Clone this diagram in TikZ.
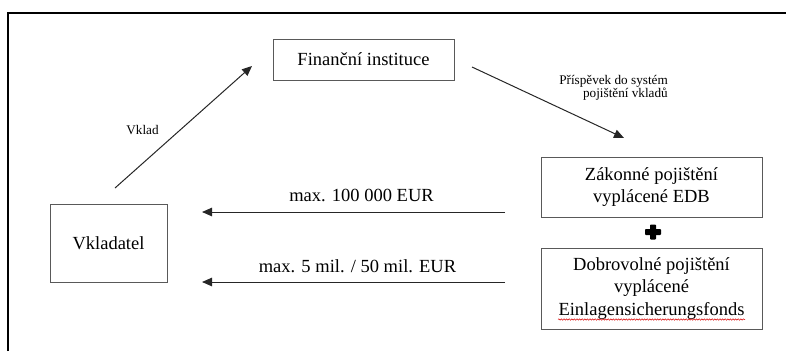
\documentclass[tikz,border=0pt]{standalone}
\usepackage{fontspec}
\setmainfont{Liberation Serif}
\usetikzlibrary{arrows.meta,decorations.pathmorphing,calc}
\begin{document}
\begin{tikzpicture}[x=1pt,y=-1pt,
  boxnode/.style={draw=black!65,line width=0.9pt,inner sep=0pt,align=center,
    font=\fontsize{18.5}{22.5}\selectfont},
  smalllbl/.style={inner sep=0pt,font=\fontsize{13.2}{13}\selectfont},
  biglbl/.style={inner sep=0pt,font=\fontsize{18.5}{22.5}\selectfont},
  flow/.style={line width=1pt,draw=black!85,-{Triangle[length=10pt,width=8.5pt]}}]
\useasboundingbox (0,0) rectangle (786,351);
% frame
\draw[line width=2.2pt] (8,351) -- (8,13) -- (786,13);
% boxes
\node[boxnode,minimum width=181,minimum height=41] (fi) at (363.5,59.5) {Finanční instituce};
\node[boxnode,minimum width=117,minimum height=78] (vk) at (108.5,243) {Vkladatel};
\node[boxnode,minimum width=221,minimum height=60] (zp) at (651.5,187) {Zákonné pojištění\\vyplácené EDB};
\node[boxnode,minimum width=221,minimum height=81] (dp) at (651.5,288.5) {Dobrovolné pojištění\\vyplácené\\Einlagensicherungsfonds};
% plus sign
\coordinate (plus) at (653,232);
\fill[rounded corners=0.8pt] ($(plus)+(-8,-3)$) rectangle ($(plus)+(8,3)$);
\fill[rounded corners=0.8pt] ($(plus)+(-3,-7.5)$) rectangle ($(plus)+(3,7.5)$);
% spellcheck underline
\coordinate (ul1) at (558,319.5);
\coordinate (ul2) at (745,319.5);
\draw[red!85!black,line width=0.5pt,decorate,decoration={snake,amplitude=0.7pt,segment length=2.6pt}] (ul1) -- (ul2);
% connectors
\coordinate (a1s) at (115,188);
\coordinate (a1e) at (252,66);
\draw[flow] (a1s) -- (a1e);
\coordinate (a2s) at (472,67);
\coordinate (a2e) at (624,138);
\draw[flow] (a2s) -- (a2e);
\coordinate (a3s) at (505,212);
\coordinate (a3e) at (202,212);
\draw[flow] (a3s) -- (a3e);
\coordinate (a4s) at (505,282);
\coordinate (a4e) at (202,282);
\draw[flow] (a4s) -- (a4e);
% labels
\node[smalllbl] (lv) at (142.5,130) {Vklad};
\node[smalllbl,align=right,anchor=north east] (lp) at (668,75) {Příspěvek do systém\\pojištění vkladů};
\node[biglbl] (l1) at (361.5,195) {max. 100 000 EUR};
\node[biglbl] (l2) at (357.5,266) {max. 5 mil. / 50 mil. EUR};
\end{tikzpicture}
\end{document}
